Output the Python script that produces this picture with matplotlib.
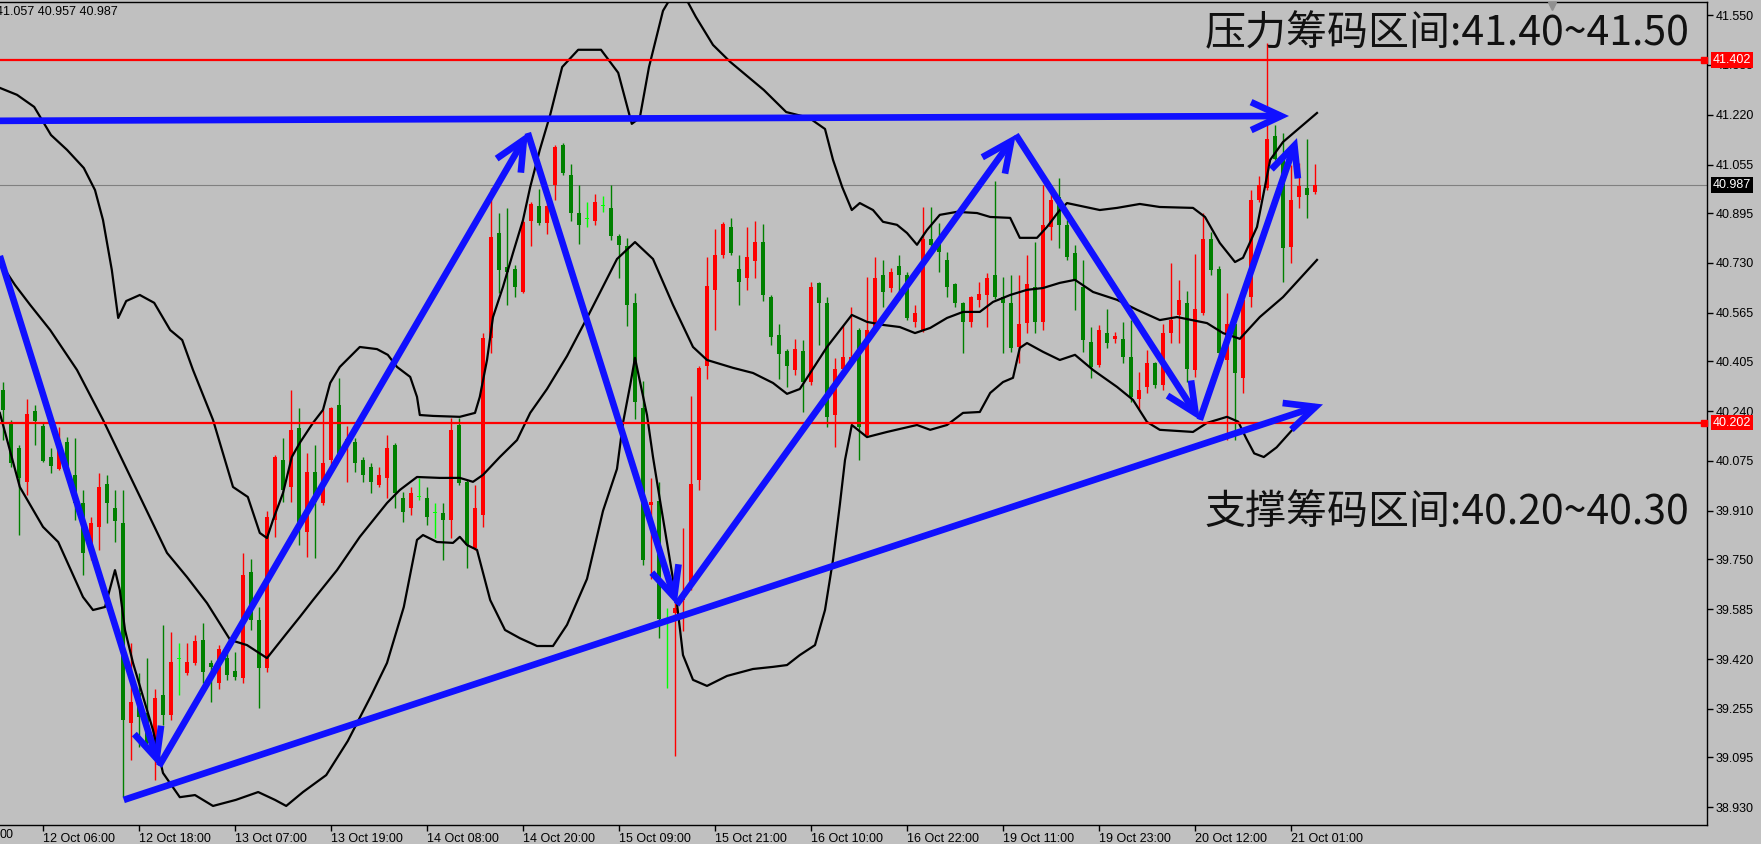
import matplotlib
matplotlib.use("Agg")
import matplotlib.pyplot as plt
import numpy as np

# H1 candles, red = up bar, green = down bar
opens = [40.310, 40.204, 40.118, 40.006, 40.240, 40.191, 40.088, 40.049, 40.138, 40.029,
         39.936, 39.774, 39.857, 39.999, 39.920, 39.870, 39.208, 39.307, 39.241, 39.119,
         39.301, 39.234, 39.420, 39.374, 39.407, 39.483, 39.407, 39.341, 39.423, 39.380,
         39.357, 39.708, 39.549, 39.390, 39.880, 40.078, 39.989, 40.184, 39.840, 40.039,
         39.936, 40.078, 40.260, 40.128, 40.138, 40.078, 40.055, 39.996, 40.019, 40.128,
         39.953, 39.920, 39.956, 39.953, 39.903, 39.903, 39.880, 40.194, 40.006, 39.787,
         39.896, 40.482, 40.829, 40.717, 40.710, 40.634, 40.869, 40.919, 40.862, 40.988,
         41.120, 41.021, 40.895, 40.876, 40.869, 40.919, 40.912, 40.819, 40.786, 40.598,
         40.250, 39.929, 39.943, 39.552, 39.572, 39.615, 39.658, 40.012, 40.389, 40.641,
         40.756, 40.849, 40.710, 40.680, 40.737, 40.799, 40.617, 40.492, 40.439, 40.376,
         40.439, 40.336, 40.664, 40.598, 40.227, 40.379, 40.406, 40.508, 40.161, 40.518,
         40.690, 40.647, 40.720, 40.690, 40.535, 40.508, 40.809, 40.796, 40.740, 40.660,
         40.598, 40.535, 40.608, 40.624, 40.690, 40.617, 40.598, 40.452, 40.531, 40.651,
         40.535, 40.849, 40.948, 40.856, 40.763, 40.651, 40.469, 40.393, 40.498, 40.479,
         40.479, 40.419, 40.280, 40.320, 40.399, 40.326, 40.498, 40.558, 40.598, 40.376,
         40.565, 40.809, 40.710, 40.409, 40.528, 40.350, 40.617, 40.938, 40.978, 41.150,
         41.071, 40.783, 40.948, 40.978, 40.965]
highs = [40.336, 40.211, 40.128, 40.280, 40.260, 40.201, 40.118, 40.187, 40.154, 40.151,
         39.979, 39.890, 40.035, 40.029, 39.979, 39.979, 39.473, 39.374, 39.423, 39.321,
         39.533, 39.509, 39.473, 39.473, 39.499, 39.539, 39.417, 39.466, 39.466, 39.443,
         39.771, 39.751, 39.592, 39.910, 40.095, 40.151, 40.310, 40.250, 40.101, 40.128,
         40.244, 40.254, 40.350, 40.191, 40.151, 40.088, 40.068, 40.055, 40.161, 40.135,
         39.972, 39.989, 40.019, 39.989, 39.936, 39.936, 40.217, 40.217, 40.012, 39.996,
         40.498, 40.978, 40.895, 40.912, 40.724, 40.872, 40.932, 40.975, 40.932, 41.120,
         41.127, 41.057, 40.988, 40.932, 40.958, 40.951, 40.988, 40.826, 40.813, 40.631,
         40.340, 40.019, 40.006, 39.589, 39.615, 39.853, 40.290, 40.389, 40.750, 40.842,
         40.866, 40.879, 40.756, 40.849, 40.869, 40.859, 40.624, 40.528, 40.445, 40.479,
         40.475, 40.667, 40.667, 40.617, 40.416, 40.525, 40.584, 40.515, 40.684, 40.750,
         40.740, 40.713, 40.756, 40.700, 40.591, 40.915, 40.915, 40.862, 40.766, 40.665,
         40.601, 40.620, 40.667, 40.697, 41.000, 40.684, 40.690, 40.690, 40.756, 40.799,
         40.988, 40.962, 41.011, 40.872, 40.790, 40.740, 40.518, 40.525, 40.578, 40.502,
         40.535, 40.541, 40.369, 40.442, 40.402, 40.528, 40.730, 40.674, 40.637, 40.760,
         40.895, 40.833, 40.720, 40.631, 40.551, 40.617, 40.971, 41.018, 41.457, 41.186,
         41.160, 41.054, 41.061, 41.140, 41.057]
lows = [40.144, 40.055, 39.830, 39.963, 40.128, 40.070, 40.035, 40.045, 40.045, 39.880,
        39.698, 39.748, 39.781, 39.870, 39.807, 38.963, 39.086, 39.129, 39.129, 39.020,
        39.202, 39.218, 39.301, 39.367, 39.400, 39.341, 39.278, 39.321, 39.351, 39.351,
        39.341, 39.516, 39.258, 39.377, 39.824, 39.939, 39.939, 39.797, 39.757, 39.754,
        39.930, 40.055, 40.090, 40.006, 40.039, 40.006, 39.969, 39.989, 39.953, 39.920,
        39.873, 39.896, 39.946, 39.863, 39.820, 39.748, 39.820, 39.996, 39.721, 39.781,
        39.857, 40.432, 40.631, 40.591, 40.617, 40.631, 40.786, 40.856, 40.826, 40.938,
        41.021, 40.869, 40.793, 40.849, 40.856, 40.899, 40.806, 40.680, 40.522, 40.214,
        39.731, 39.685, 39.489, 39.324, 39.099, 39.513, 39.648, 39.979, 40.346, 40.508,
        40.747, 40.756, 40.591, 40.641, 40.680, 40.604, 40.459, 40.346, 40.320, 40.360,
        40.237, 40.326, 40.459, 40.187, 40.121, 40.369, 40.399, 40.078, 40.154, 40.515,
        40.584, 40.634, 40.608, 40.541, 40.518, 40.502, 40.780, 40.700, 40.617, 40.584,
        40.432, 40.518, 40.584, 40.518, 40.610, 40.432, 40.436, 40.399, 40.498, 40.498,
        40.508, 40.806, 40.780, 40.740, 40.574, 40.436, 40.350, 40.386, 40.449, 40.465,
        40.399, 40.270, 40.247, 40.300, 40.316, 40.310, 40.465, 40.465, 40.336, 40.353,
        40.558, 40.690, 40.386, 40.144, 40.144, 40.300, 40.584, 40.930, 40.971, 41.071,
        40.667, 40.730, 40.912, 40.879, 40.957]
closes = [40.244, 40.068, 40.019, 40.230, 40.207, 40.075, 40.058, 40.144, 40.049, 39.936,
          39.771, 39.870, 39.989, 39.936, 39.877, 39.218, 39.278, 39.228, 39.142, 39.291,
          39.234, 39.410, 39.420, 39.410, 39.479, 39.377, 39.394, 39.453, 39.367, 39.361,
          39.698, 39.549, 39.390, 39.890, 40.088, 39.979, 40.178, 39.863, 40.039, 39.939,
          40.068, 40.250, 40.095, 40.148, 40.068, 40.029, 40.006, 40.029, 40.118, 39.969,
          39.906, 39.969, 39.956, 39.890, 39.903, 39.880, 40.178, 40.002, 39.797, 39.920,
          40.482, 40.816, 40.707, 40.700, 40.651, 40.866, 40.925, 40.862, 40.919, 41.114,
          41.028, 40.895, 40.856, 40.876, 40.932, 40.919, 40.819, 40.790, 40.591, 40.270,
          39.748, 39.939, 39.552, 39.552, 39.589, 39.638, 39.999, 40.383, 40.654, 40.756,
          40.859, 40.763, 40.667, 40.750, 40.799, 40.624, 40.485, 40.429, 40.389, 40.445,
          40.336, 40.651, 40.598, 40.221, 40.379, 40.419, 40.419, 40.187, 40.508, 40.680,
          40.634, 40.700, 40.690, 40.548, 40.565, 40.809, 40.790, 40.766, 40.651, 40.598,
          40.535, 40.617, 40.627, 40.680, 40.617, 40.598, 40.449, 40.528, 40.660, 40.535,
          40.856, 40.938, 40.856, 40.750, 40.674, 40.475, 40.386, 40.508, 40.465, 40.488,
          40.419, 40.287, 40.310, 40.399, 40.326, 40.498, 40.541, 40.608, 40.379, 40.578,
          40.809, 40.707, 40.432, 40.528, 40.366, 40.608, 40.938, 40.988, 41.140, 41.074,
          40.780, 40.938, 40.985, 40.955, 40.987]

# Bollinger band vertices (bar index, price)
upper_band = [(-0.4, 41.309), (1.75, 41.286), (3.9, 41.246), (6.0, 41.153), (8.0, 41.104),
              (10.1, 41.044), (11.5, 40.971), (12.5, 40.872), (13.6, 40.707), (14.4, 40.548),
              (15.4, 40.604), (17.1, 40.624), (18.9, 40.598), (20.9, 40.508), (22.4, 40.475),
              (23.75, 40.376), (26.25, 40.211), (28.75, 39.989), (30.6, 39.956), (32.1, 39.837),
              (33.0, 39.820), (33.75, 39.880), (35.0, 39.969), (36.1, 40.088), (37.1, 40.135),
              (38.75, 40.201), (40.0, 40.244), (40.9, 40.333), (42.1, 40.386), (44.6, 40.452),
              (46.75, 40.445), (48.1, 40.426), (49.25, 40.386), (50.9, 40.353), (51.75, 40.287),
              (52.1, 40.227), (53.75, 40.224), (57.1, 40.221), (59.0, 40.234), (59.6, 40.287),
              (60.5, 40.409), (61.25, 40.551), (62.5, 40.651), (63.75, 40.763), (65.0, 40.872),
              (65.9, 40.981), (67.1, 41.104), (68.4, 41.220), (69.9, 41.378), (71.9, 41.435),
              (74.75, 41.435), (76.9, 41.359), (78.6, 41.190), (79.6, 41.210), (80.75, 41.378),
              (82.5, 41.564), (83.9, 41.626), (85.25, 41.610), (86.6, 41.544), (88.75, 41.451),
              (90.9, 41.395), (95.1, 41.302), (97.9, 41.229), (100.75, 41.210), (102.75, 41.173),
              (103.75, 41.071), (104.9, 40.981), (106.1, 40.905), (107.1, 40.928), (108.75, 40.905),
              (110.0, 40.866), (111.75, 40.856), (113.0, 40.829), (114.25, 40.790), (115.5, 40.839),
              (117.1, 40.889), (119.25, 40.899), (121.75, 40.895), (123.4, 40.882), (125.9, 40.879),
              (127.1, 40.813), (129.25, 40.813), (130.5, 40.849), (132.1, 40.905), (133.0, 40.928),
              (137.1, 40.905), (139.25, 40.912), (142.1, 40.925), (144.6, 40.915), (148.75, 40.912),
              (150.25, 40.882), (152.1, 40.796), (154.0, 40.733), (155.0, 40.747), (156.75, 40.849),
              (158.4, 41.071), (160.0, 41.130), (164.25, 41.226)]
middle_band = [(-0.4, 40.733), (1.5, 40.657), (3.4, 40.591), (5.9, 40.508), (9.25, 40.376),
               (12.5, 40.211), (17.5, 39.936), (20.5, 39.771), (23.0, 39.691), (25.5, 39.605),
               (28.4, 39.483), (30.5, 39.466), (33.0, 39.423), (35.4, 39.503), (37.1, 39.559),
               (38.75, 39.615), (41.75, 39.714), (44.6, 39.824), (48.0, 39.936), (49.6, 39.979),
               (51.75, 40.022), (54.6, 40.019), (57.1, 40.019), (58.75, 40.006), (60.0, 40.029),
               (62.1, 40.088), (64.25, 40.144), (65.9, 40.234), (68.0, 40.313), (70.5, 40.422),
               (73.0, 40.548), (74.6, 40.631), (76.75, 40.743), (79.0, 40.799), (81.25, 40.743),
               (83.75, 40.591), (86.25, 40.452), (88.0, 40.409), (91.25, 40.383), (93.75, 40.366),
               (96.25, 40.333), (98.0, 40.297), (99.6, 40.313), (100.9, 40.366), (103.0, 40.452),
               (106.1, 40.558), (108.0, 40.535), (110.0, 40.525), (112.1, 40.518), (114.0, 40.498),
               (115.9, 40.515), (118.0, 40.548), (120.0, 40.568), (122.1, 40.568), (123.75, 40.601),
               (125.9, 40.624), (128.0, 40.641), (130.0, 40.647), (132.1, 40.664), (134.0, 40.674),
               (136.25, 40.634), (139.25, 40.608), (141.75, 40.575), (144.6, 40.541), (146.75, 40.551),
               (150.5, 40.531), (152.5, 40.498), (154.6, 40.479), (157.1, 40.551), (160.0, 40.617),
               (164.25, 40.740)]
lower_band = [(-0.4, 40.234), (2.1, 39.989), (5.0, 39.857), (6.9, 39.807), (10.0, 39.625),
              (11.25, 39.582), (12.75, 39.592), (14.0, 39.714), (14.6, 39.648), (15.25, 39.516),
              (16.25, 39.407), (18.75, 39.185), (20.0, 39.043), (22.1, 38.963), (24.0, 38.970),
              (26.25, 38.934), (29.1, 38.954), (31.9, 38.980), (34.0, 38.954), (35.4, 38.934),
              (37.5, 38.980), (40.4, 39.036), (43.1, 39.149), (46.0, 39.298), (48.0, 39.407),
              (50.1, 39.592), (51.75, 39.814), (52.5, 39.830), (54.25, 39.807), (56.25, 39.804),
              (57.1, 39.824), (58.0, 39.797), (59.25, 39.781), (60.9, 39.615), (62.75, 39.516),
              (64.6, 39.489), (66.75, 39.463), (68.75, 39.463), (70.5, 39.533), (73.0, 39.685),
              (75.0, 39.910), (76.75, 40.049), (77.5, 40.201), (78.4, 40.326), (79.0, 40.416),
              (79.6, 40.340), (80.5, 40.227), (81.25, 40.088), (82.1, 39.949), (83.4, 39.741),
              (84.25, 39.602), (85.0, 39.433), (86.25, 39.351), (88.0, 39.331), (90.5, 39.364),
              (93.75, 39.387), (96.25, 39.394), (98.0, 39.400), (99.6, 39.433), (101.5, 39.466),
              (102.75, 39.582), (103.75, 39.748), (104.6, 39.929), (105.25, 40.078), (106.1, 40.194),
              (108.0, 40.154), (110.5, 40.171), (114.25, 40.194), (115.9, 40.178), (118.0, 40.194),
              (120.0, 40.234), (122.1, 40.237), (123.4, 40.300), (125.0, 40.336), (126.25, 40.350),
              (127.1, 40.449), (128.0, 40.465), (130.0, 40.436), (132.1, 40.409), (134.0, 40.426),
              (136.25, 40.376), (139.25, 40.320), (141.25, 40.277), (143.0, 40.204), (144.6, 40.178),
              (148.75, 40.171), (150.5, 40.201), (153.0, 40.221), (154.4, 40.205), (155.4, 40.150),
              (156.4, 40.100), (157.6, 40.088), (159.2, 40.120), (161.4, 40.185), (163.6, 40.250)]

# hand-drawn blue arrows: (start bar, start price, end bar, end price)
blue_arrows = [(-0.4, 41.200, 160.75, 41.216),
               (-0.4, 40.753, 19.5, 39.066),
               (19.5, 39.066, 65.6, 41.160),
               (65.6, 41.160, 84.2, 39.600),
               (84.2, 39.600, 126.6, 41.154),
               (126.6, 41.154, 149.6, 40.211),
               (149.6, 40.211, 161.75, 41.143),
               (15.1, 38.954, 165.0, 40.262)]

resistance = 41.402
support = 40.202
last_price = 40.987
header = "41.057 40.957 40.987"
resist_text = "压力筹码区间:41.40~41.50"
support_text = "支撑筹码区间:40.20~40.30"

y_ticks = [41.550, 41.385, 41.220, 41.055, 40.895, 40.730, 40.565, 40.405, 40.240,
           40.075, 39.910, 39.750, 39.585, 39.420, 39.255, 39.095, 38.930]
x_tick_bars = [5, 17, 29, 41, 53, 65, 77, 89, 101, 113, 125, 137, 149, 161]
x_tick_labels = ["12 Oct 06:00", "12 Oct 18:00", "13 Oct 07:00", "13 Oct 19:00",
                 "14 Oct 08:00", "14 Oct 20:00", "15 Oct 09:00", "15 Oct 21:00",
                 "16 Oct 10:00", "16 Oct 22:00", "19 Oct 11:00", "19 Oct 23:00",
                 "20 Oct 12:00", "21 Oct 01:00"]

bg = "#c0c0c0"
W, H = 1761, 844
fig = plt.figure(figsize=(W / 100, H / 100), dpi=100, facecolor=bg)
ax = fig.add_axes([0, 19 / H, 1707 / W, 823 / H])
ax.set_facecolor(bg)
ax.set_xlim(-0.375, 213)
ax.set_ylim(38.871, 41.593)

o = np.array(opens)
h = np.array(highs)
l = np.array(lows)
c = np.array(closes)
x = np.arange(len(o))
cols = np.where(c > o, "#ff0000", np.where(c < o, "#008000", "#00ff00"))

ax.axhline(last_price, color="#808080", lw=0.8, zorder=1)
ax.vlines(x, l, h, colors=cols, lw=1, zorder=2)
ax.bar(x, np.maximum(np.abs(c - o), 0.004), bottom=np.minimum(o, c), width=0.62,
       color=cols, linewidth=0, zorder=2)

for band in (upper_band, middle_band, lower_band):
    bx, by = zip(*band)
    ax.plot(bx, by, color="black", lw=1.6, zorder=3, solid_joinstyle="round")

for lvl in (resistance, support):
    ax.axhline(lvl, color="#ff0000", lw=1.6, zorder=4)
    ax.plot([212.6], [lvl], marker="s", ms=4, color="#ff0000", zorder=4, clip_on=False)

for x0, y0, x1, y1 in blue_arrows:
    ax.annotate("", xy=(x1, y1), xytext=(x0, y0),
                arrowprops=dict(arrowstyle="->,head_length=0.9,head_width=0.42",
                                color="#1010ff", lw=4.8, shrinkA=0, shrinkB=0,
                                mutation_scale=24, joinstyle="miter", capstyle="butt"),
                zorder=5, annotation_clip=False)

cjk = ["Noto Sans CJK SC", "DejaVu Sans"]
fig.text(1205 / W, 1 - 34 / H, resist_text, family=cjk, fontsize=29.5, color="#111111",
         va="center", ha="left")
fig.text(1205 / W, 1 - 512 / H, support_text, family=cjk, fontsize=29.5, color="#111111",
         va="center", ha="left")

# axes styling, MT4 look
ax.spines["left"].set_visible(False)
for side in ("top", "right", "bottom"):
    ax.spines[side].set_color("black")
    ax.spines[side].set_linewidth(1)
ax.yaxis.tick_right()
ax.set_yticks(y_ticks)
ax.set_yticklabels([f"{v:.3f}" for v in y_ticks])
ax.set_xticks(x_tick_bars)
ax.set_xticklabels(x_tick_labels)
ax.tick_params(axis="both", direction="out", length=4, width=1, color="black",
               labelsize=9, labelcolor="black", pad=2)
for lbl in ax.get_xticklabels() + ax.get_yticklabels():
    lbl.set_family("Liberation Sans")
for lbl in ax.get_xticklabels():
    lbl.set_ha("left")

# price tags on the right scale
for val, fc in ((resistance, "#ff0000"), (support, "#ff0000"), (last_price, "black")):
    ax.annotate(f"{val:.3f}", xy=(1.0, val), xycoords=("axes fraction", "data"),
                xytext=(4, 0), textcoords="offset points", va="center", ha="left",
                fontsize=9, family="Liberation Sans", color="white",
                bbox=dict(boxstyle="square,pad=0.15", fc=fc, ec="none"),
                annotation_clip=False, zorder=10)

ax.plot([0.909], [0.995], marker="v", ms=6, color="#909090", transform=ax.transAxes,
        clip_on=False, zorder=6)
fig.text(-4 / W, 1 - 12 / H, header, fontsize=9, family="Liberation Sans",
         color="black", va="center", ha="left")
fig.text(0, 1 - 835 / H, "00", fontsize=9, family="Liberation Sans", color="black",
         va="center", ha="left")

fig.savefig("out.png", dpi=100, facecolor=bg)
